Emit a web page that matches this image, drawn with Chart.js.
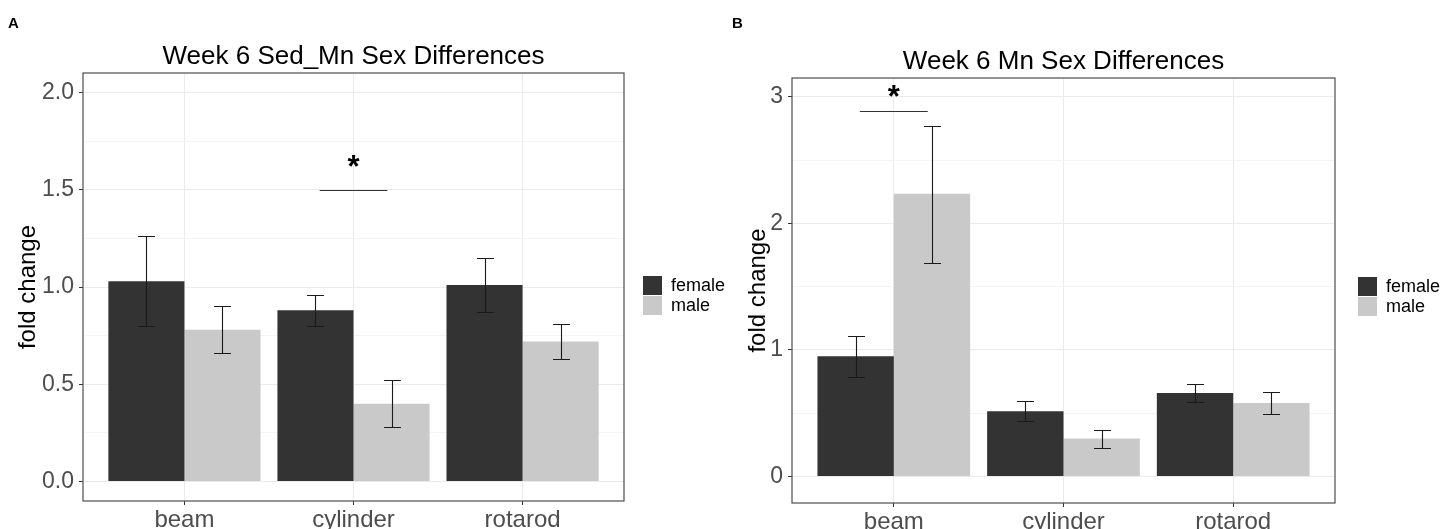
<!DOCTYPE html>
<html>
<head>
<meta charset="utf-8">
<script src="https://cdn.jsdelivr.net/npm/chart.js@4.4.1/dist/chart.umd.min.js"></script>
<style>
  body { margin: 0; background: #fff; width: 1442px; height: 529px; overflow: hidden; position: relative; }
  canvas { position: absolute; top: 0; }
  #chartA { left: 0; }
  #chartB { left: 720px; }
</style>
</head>
<body>
<canvas id="chartA" width="760" height="529"></canvas>
<canvas id="chartB" width="722" height="529"></canvas>
<script>
// data
const categories = ["beam", "cylinder", "rotarod"];
const sexes = ["female", "male"];

// A - Week 6 Sed_Mn
const femaleA = [1.03, 0.88, 1.01];
const femaleLoA = [0.80, 0.80, 0.87];
const femaleHiA = [1.26, 0.96, 1.15];
const maleA = [0.78, 0.40, 0.72];
const maleLoA = [0.66, 0.28, 0.63];
const maleHiA = [0.90, 0.52, 0.81];
const yTicksA = [0, 0.25, 0.5, 0.75, 1, 1.25, 1.5, 1.75, 2];
const yLabelsA = ["0.0", "", "0.5", "", "1.0", "", "1.5", "", "2.0"];
const sigA = [1.8, 2.2, 1.5, 1.61]; // from, to, line y, star y

// B - Week 6 Mn
const femaleB = [0.95, 0.515, 0.66];
const femaleLoB = [0.79, 0.44, 0.59];
const femaleHiB = [1.11, 0.595, 0.73];
const maleB = [2.235, 0.30, 0.58];
const maleLoB = [1.69, 0.225, 0.49];
const maleHiB = [2.77, 0.365, 0.665];
const yTicksB = [0, 0.5, 1, 1.5, 2, 2.5, 3];
const yLabelsB = ["0", "", "1", "", "2", "", "3"];
const sigB = [0.8, 1.2, 2.89, 2.99];

const FONT = "'Liberation Sans', Arial, sans-serif";
Chart.defaults.font.family = FONT;

const colors = ["#333333", "#c9c9c9"];

// error bars + frame + annotations + title + legend
const panelPlugin = {
    id: "panel",
    afterDatasetsDraw(chart) {
        const { ctx, scales: { x, y } } = chart;
        const half = (x.getPixelForValue(0.1) - x.getPixelForValue(0)) / 2;
        ctx.save();
        ctx.strokeStyle = "#1a1a1a";
        ctx.lineWidth = 1.1;
        chart.data.datasets.forEach((ds, di) => {
            chart.getDatasetMeta(di).data.forEach((bar, i) => {
                const top = Math.round(y.getPixelForValue(ds.hi[i])) + 0.5;
                const bot = Math.round(y.getPixelForValue(ds.lo[i])) + 0.5;
                const cx = Math.round(bar.x) + 0.5;
                ctx.beginPath();
                ctx.moveTo(cx, top); ctx.lineTo(cx, bot);
                ctx.moveTo(cx - half, top); ctx.lineTo(cx + half, top);
                ctx.moveTo(cx - half, bot); ctx.lineTo(cx + half, bot);
                ctx.stroke();
            });
        });
        ctx.restore();
    },
    afterDraw(chart, args, opts) {
        const { ctx, chartArea: a, scales: { x, y } } = chart;
        ctx.save();
        // panel border
        ctx.strokeStyle = "#4d4d4d";
        ctx.lineWidth = 1.2;
        ctx.strokeRect(a.left, a.top, a.right - a.left, a.bottom - a.top);

        // significance bar and star
        const s = opts.sig;
        const ly = Math.round(y.getPixelForValue(s[2])) + 0.5;
        ctx.strokeStyle = "#333";
        ctx.lineWidth = 1.2;
        ctx.beginPath();
        ctx.moveTo(x.getPixelForValue(s[0]), ly);
        ctx.lineTo(x.getPixelForValue(s[1]), ly);
        ctx.stroke();
        ctx.fillStyle = "#000";
        ctx.font = "bold 31px " + FONT;
        ctx.textAlign = "center";
        ctx.textBaseline = "middle";
        ctx.fillText("*", x.getPixelForValue((s[0] + s[1]) / 2), y.getPixelForValue(s[3]));

        // title
        ctx.font = "26px " + FONT;
        ctx.textBaseline = "alphabetic";
        ctx.fillText(opts.title, (a.left + a.right) / 2, opts.titleY);

        // panel letter
        ctx.font = "bold 15px " + FONT;
        ctx.textAlign = "left";
        ctx.fillText(opts.letter, opts.letterX, 28);

        // legend
        ctx.font = "18px " + FONT;
        ctx.textBaseline = "middle";
        chart.data.datasets.forEach((ds, i) => {
            const by = opts.legendY + i * 20;
            ctx.fillStyle = ds.backgroundColor;
            ctx.fillRect(opts.legendX, by, 19, 19);
            ctx.fillStyle = "#000";
            ctx.fillText(ds.label, opts.legendX + 28, by + 10);
        });
        ctx.restore();
    }
};

function makeChart(id, cfg) {
    const ds = (i, vals, lo, hi) => ({
        label: sexes[i],
        data: categories.map((c, k) => ({ x: k + 1, y: vals[k] })),
        lo: lo, hi: hi,
        backgroundColor: colors[i],
        borderWidth: 0,
        categoryPercentage: 0.9,
        barPercentage: 1.0
    });
    return new Chart(document.getElementById(id), {
        type: "bar",
        data: {
            datasets: [
                ds(0, cfg.female, cfg.femaleLo, cfg.femaleHi),
                ds(1, cfg.male, cfg.maleLo, cfg.maleHi)
            ]
        },
        options: {
            responsive: false,
            animation: false,
            devicePixelRatio: 1,
            layout: { padding: cfg.padding },
            plugins: {
                legend: { display: false },
                tooltip: { enabled: false },
                panel: cfg.panel
            },
            scales: {
                x: {
                    type: "linear",
                    min: 0.4,
                    max: 3.6,
                    offset: false,
                    bounds: "data",
                    afterBuildTicks: s => { s.ticks = categories.map((c, k) => ({ value: k + 1 })); },
                    afterFit: s => { s.height = cfg.xHeight; },
                    border: { display: false },
                    grid: { offset: false, color: "#ebebeb", tickColor: "#333", tickLength: 4 },
                    ticks: {
                        autoSkip: false,
                        maxRotation: 0,
                        padding: 1,
                        color: "#4d4d4d",
                        font: { size: 24 },
                        callback: v => categories[Math.round(v) - 1]
                    }
                },
                y: {
                    min: cfg.yMin,
                    max: cfg.yMax,
                    bounds: "data",
                    afterBuildTicks: s => { s.ticks = cfg.yTicks.map(v => ({ value: v })); },
                    afterFit: s => { s.width = cfg.yWidth; },
                    border: { display: false },
                    grid: {
                        color: c => cfg.yLabels[c.index] === "" ? "#f4f4f4" : "#ebebeb",
                        tickColor: c => cfg.yLabels[c.index] === "" ? "rgba(0,0,0,0)" : "#333",
                        tickLength: 4
                    },
                    ticks: {
                        autoSkip: false,
                        padding: 5,
                        color: "#4d4d4d",
                        font: { size: 23 },
                        callback: (v, i) => cfg.yLabels[i]
                    },
                    title: {
                        display: true,
                        text: "fold change",
                        color: "#000",
                        font: { size: 24 },
                        padding: { top: cfg.yTitlePad, bottom: 0 }
                    }
                }
            }
        },
        plugins: [panelPlugin]
    });
}

makeChart("chartA", {
    female: femaleA, femaleLo: femaleLoA, femaleHi: femaleHiA,
    male: maleA, maleLo: maleLoA, maleHi: maleHiA,
    yMin: -0.1, yMax: 2.1, yTicks: yTicksA, yLabels: yLabelsA,
    padding: { left: 0, top: 73, right: 136, bottom: 0 },
    yWidth: 83, xHeight: 28, yTitlePad: 14,
    panel: { title: "Week 6 Sed_Mn Sex Differences", titleY: 64, letter: "A", letterX: 8, sig: sigA, legendX: 643, legendY: 276 }
});

makeChart("chartB", {
    female: femaleB, femaleLo: femaleLoB, femaleHi: femaleHiB,
    male: maleB, maleLo: maleLoB, maleHi: maleHiB,
    yMin: -0.21, yMax: 3.15, yTicks: yTicksB, yLabels: yLabelsB,
    padding: { left: 0, top: 78, right: 107, bottom: 0 },
    yWidth: 72, xHeight: 26, yTitlePad: 24,
    panel: { title: "Week 6 Mn Sex Differences", titleY: 69, letter: "B", letterX: 12, sig: sigB, legendX: 638, legendY: 277 }
});
</script>
</body>
</html>
